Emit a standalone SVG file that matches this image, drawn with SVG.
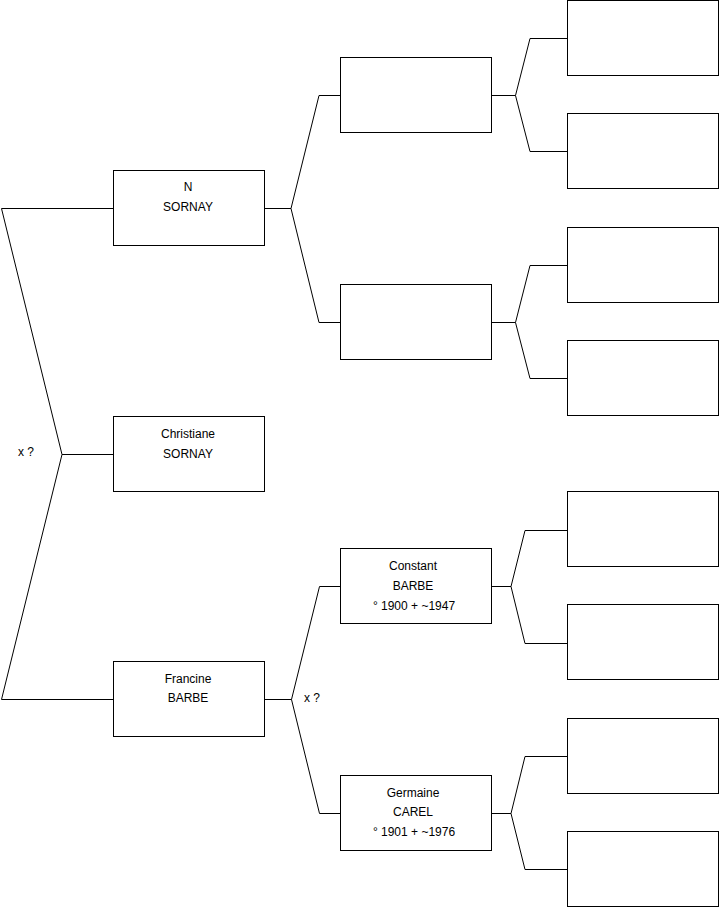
<svg xmlns="http://www.w3.org/2000/svg" width="719" height="908" viewBox="0 0 719 908">
<style>
.box{fill:#fff;stroke:#000;stroke-width:1}
.ln{fill:none;stroke:#000;stroke-width:1}
text{font-family:"Liberation Sans",Arial,sans-serif;font-size:12px;fill:#000}
.c{text-anchor:middle}
</style>
<rect width="719" height="908" fill="#fff"/>
<g id="connectors">
<path class="ln" d="M113.5,208.5 H1.5 L62,454.5 L1.5,699.5 H113.5 M62,454.5 H113.5"/>
<path class="ln" d="M265,208.5 H291 M319,95.5 L291,208.5 L319,322.5 M319,95.5 H340.5 M319,322.5 H340.5"/>
<path class="ln" d="M265,699.5 H291.5 M319.5,586.5 L291.5,699.5 L319.5,813.5 M319.5,586.5 H340.5 M319.5,813.5 H340.5"/>
<path class="ln" d="M491.5,95.5 H515.5 M530,38.5 L515.5,95.5 L530,151.5 M530,38.5 H567.5 M530,151.5 H567.5"/>
<path class="ln" d="M491.5,322.5 H515.5 M530,265.5 L515.5,322.5 L530,378.5 M530,265.5 H567.5 M530,378.5 H567.5"/>
<path class="ln" d="M491.5,586.5 H511 M525,530.5 L511,586.5 L525,643.5 M525,530.5 H567.5 M525,643.5 H567.5"/>
<path class="ln" d="M491.5,813.5 H511 M525,756.5 L511,813.5 L525,869.5 M525,756.5 H567.5 M525,869.5 H567.5"/>
<text x="18" y="456">x ?</text>
<text x="304" y="702">x ?</text>
</g>
<g id="n-sornay"><rect class="box" x="113.5" y="170.5" width="151" height="75"/><text class="c" x="188" y="191">N</text><text class="c" x="188" y="211">SORNAY</text></g>
<g id="christiane-sornay"><rect class="box" x="113.5" y="416.5" width="151" height="75"/><text class="c" x="188" y="438">Christiane</text><text class="c" x="188" y="457.5">SORNAY</text></g>
<g id="francine-barbe"><rect class="box" x="113.5" y="661.5" width="151" height="75"/><text class="c" x="188" y="682.5">Francine</text><text class="c" x="188" y="702">BARBE</text></g>
<g id="p1"><rect class="box" x="340.5" y="57.5" width="151" height="75"/></g>
<g id="p2"><rect class="box" x="340.5" y="284.5" width="151" height="75"/></g>
<g id="constant-barbe"><rect class="box" x="340.5" y="548.5" width="151" height="75"/><text class="c" x="413" y="570">Constant</text><text class="c" x="413" y="590">BARBE</text><text class="c" x="414" y="609.5">° 1900 + ~1947</text></g>
<g id="germaine-carel"><rect class="box" x="340.5" y="775.5" width="151" height="75"/><text class="c" x="413" y="796.5">Germaine</text><text class="c" x="413" y="816">CAREL</text><text class="c" x="414" y="836">° 1901 + ~1976</text></g>
<g id="g1"><rect class="box" x="567.5" y="0.5" width="151" height="75"/></g>
<g id="g2"><rect class="box" x="567.5" y="113.5" width="151" height="75"/></g>
<g id="g3"><rect class="box" x="567.5" y="227.5" width="151" height="75"/></g>
<g id="g4"><rect class="box" x="567.5" y="340.5" width="151" height="75"/></g>
<g id="g5"><rect class="box" x="567.5" y="491.5" width="151" height="75"/></g>
<g id="g6"><rect class="box" x="567.5" y="604.5" width="151" height="75"/></g>
<g id="g7"><rect class="box" x="567.5" y="718.5" width="151" height="75"/></g>
<g id="g8"><rect class="box" x="567.5" y="831.5" width="151" height="75"/></g>
</svg>
